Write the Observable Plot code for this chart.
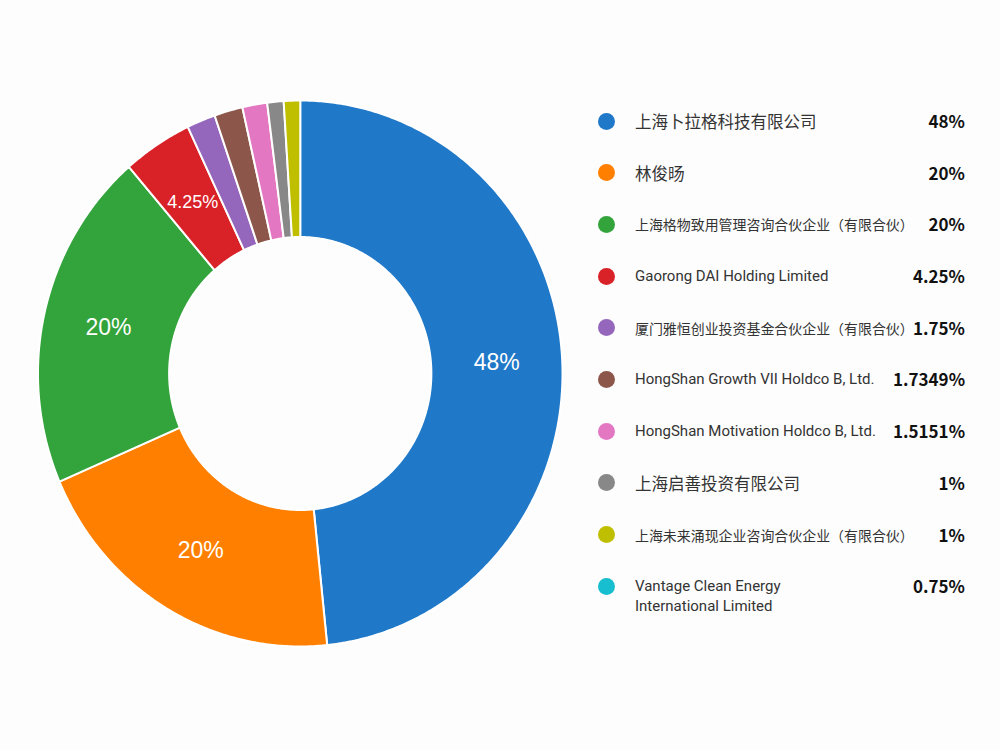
<!DOCTYPE html>
<html>
<head>
<meta charset="utf-8">
<script src="https://cdn.jsdelivr.net/npm/d3@7"></script>
<script src="https://cdn.jsdelivr.net/npm/@observablehq/plot@0.6"></script>
<style>
  html, body { margin: 0; padding: 0; background: #fdfdfd; }
  #wrap { position: relative; width: 1000px; height: 750px; overflow: hidden; }
  #chart { position: absolute; left: 0; top: 0; }
  #legend { position: absolute; left: 598px; top: 111px; width: 367px; }
  .row { display: flex; align-items: flex-start; height: 51.7px; }
  .dot { width: 17px; height: 17px; border-radius: 50%; margin-top: 1.5px; flex: none; }
  .name { margin-left: 20px; flex: 1; min-width: 0; font-family: Roboto, "Noto Sans CJK SC", sans-serif; font-size: 15px; line-height: 20px; color: #333; white-space: pre; }
  .name span { display: inline-block; }
  .name.cjk { font-size: 16.5px; font-family: "Noto Sans CJK SC", sans-serif; }
  .val { flex: none; font-family: "Noto Sans CJK SC", sans-serif; font-weight: 700; font-size: 17px; line-height: 20px; color: #111; text-align: right; }
</style>
</head>
<body>
<div id="wrap">
  <div id="chart"></div>
  <div id="legend"></div>
</div>
<script>
// ---- data ----
const names = [
  "上海卜拉格科技有限公司",
  "林俊旸",
  "上海格物致用管理咨询合伙企业（有限合伙）",
  "Gaorong DAI Holding Limited",
  "厦门雅恒创业投资基金合伙企业（有限合伙）",
  "HongShan Growth VII Holdco B, Ltd.",
  "HongShan Motivation Holdco B, Ltd.",
  "上海启善投资有限公司",
  "上海未来涌现企业咨询合伙企业（有限合伙）",
  "Vantage Clean Energy\nInternational Limited"
];
const values = [48, 20, 20, 4.25, 1.75, 1.7349, 1.5151, 1, 1, 0.75];
const valueLabels = ["48%", "20%", "20%", "4.25%", "1.75%", "1.7349%", "1.5151%", "1%", "1%", "0.75%"];
const colors = ["#1f78c8", "#ff7f00", "#33a33b", "#d92128", "#9467bd", "#8c564b", "#e377c2", "#888888", "#bfbf00", "#17becf"];
// slices drawn in the ring (the reference ring shows the first nine holders)
const ringCount = 9;
const labelMin = 4; // only slices of at least this share carry an inside label

// ---- geometry derived from data ----
const innerR = 0.5;
const ringValues = values.slice(0, ringCount);
const ringTotal = d3.sum(ringValues);
const pts = [];
const labels = [];
let acc = 0;
ringValues.forEach((v, i) => {
  const a0 = acc / ringTotal * 2 * Math.PI;
  acc += v;
  const a1 = acc / ringTotal * 2 * Math.PI;
  const n = Math.max(4, Math.ceil((a1 - a0) / (Math.PI / 360)));
  for (let k = 0; k <= n; k++) {
    const a = a0 + (a1 - a0) * k / n;
    pts.push({name: names[i], x: Math.sin(a), y: Math.cos(a)});
  }
  for (let k = n; k >= 0; k--) {
    const a = a0 + (a1 - a0) * k / n;
    pts.push({name: names[i], x: innerR * Math.sin(a), y: innerR * Math.cos(a)});
  }
  if (v >= labelMin) {
    const am = (a0 + a1) / 2, rm = (1 + innerR) / 2;
    labels.push({x: rm * Math.sin(am), y: rm * Math.cos(am), text: valueLabels[i], big: v >= 10});
  }
});

const chart = Plot.plot({
  width: 600,
  height: 750,
  margin: 0,
  style: {background: "transparent"},
  x: {domain: [-1, 1], range: [37.5, 562], axis: null},
  y: {domain: [-1, 1], range: [646, 100], axis: null},
  color: {domain: names, range: colors},
  marks: [
    Plot.line(pts, {x: "x", y: "y", z: "name", fill: "name", stroke: "white", strokeWidth: 2, strokeLinejoin: "round", curve: "linear-closed"}),
    Plot.text(labels.filter(d => d.big), {x: "x", y: "y", text: "text", fill: "white", fontSize: 23, fontFamily: "Liberation Sans, Arial, sans-serif"}),
    Plot.text(labels.filter(d => !d.big), {x: "x", y: "y", text: "text", fill: "white", fontSize: 18, fontFamily: "Liberation Sans, Arial, sans-serif"})
  ]
});
document.getElementById("chart").appendChild(chart);

// ---- legend ----
const legend = d3.select("#legend");
const isCJK = s => /[\u4e00-\u9fff]/.test(s);
const maxNameWidth = 279;
names.forEach((n, i) => {
  const row = legend.append("div").attr("class", "row");
  row.append("div").attr("class", "dot").style("background", colors[i]);
  const nm = row.append("div").attr("class", isCJK(n) ? "name cjk" : "name");
  const sp = nm.append("span").text(n);
  row.append("div").attr("class", "val").text(valueLabels[i]);
  const w = sp.node().getBoundingClientRect().width;
  if (w > maxNameWidth) {
    const fs = parseFloat(getComputedStyle(nm.node()).fontSize);
    nm.style("font-size", (fs * maxNameWidth / w).toFixed(2) + "px");
  }
});
</script>
</body>
</html>
